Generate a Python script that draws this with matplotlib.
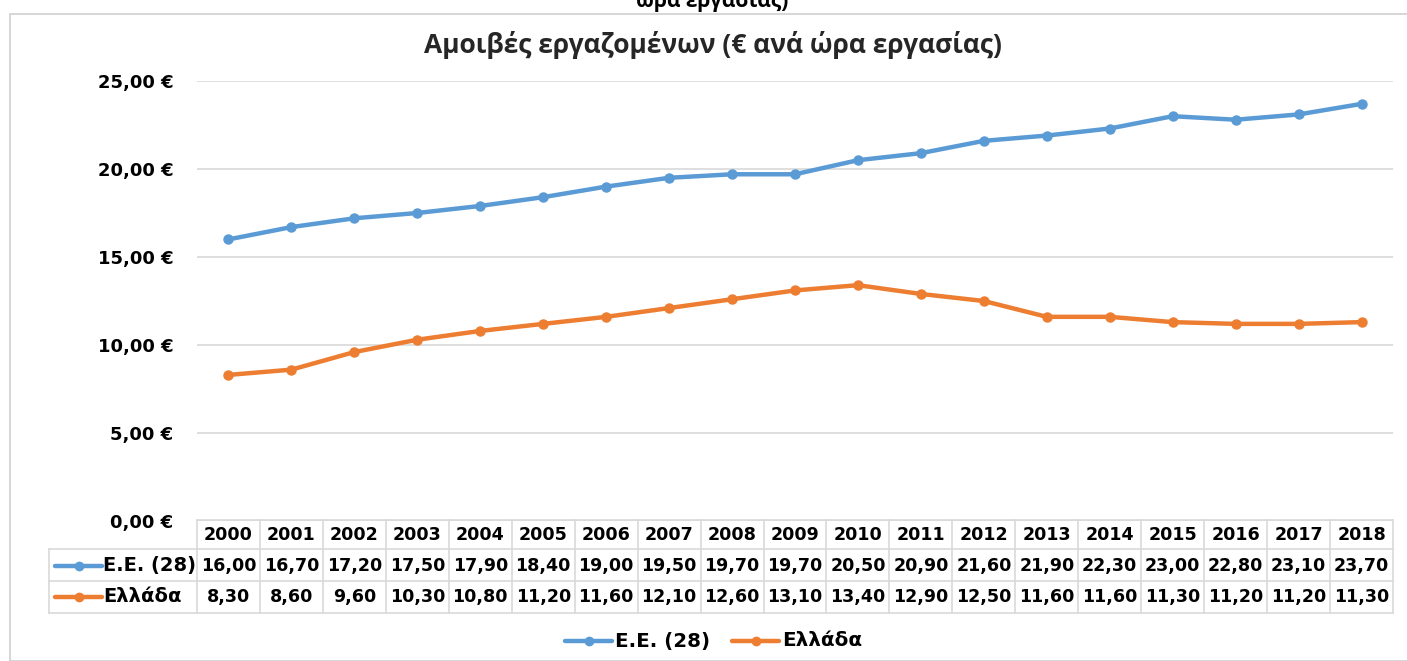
import matplotlib
matplotlib.use("Agg")
import matplotlib.pyplot as plt
from matplotlib.transforms import blended_transform_factory
from matplotlib.lines import Line2D
from matplotlib.patches import Rectangle

years = [2000, 2001, 2002, 2003, 2004, 2005, 2006, 2007, 2008, 2009,
         2010, 2011, 2012, 2013, 2014, 2015, 2016, 2017, 2018]
eu28 = [16.00, 16.70, 17.20, 17.50, 17.90, 18.40, 19.00, 19.50, 19.70, 19.70,
        20.50, 20.90, 21.60, 21.90, 22.30, 23.00, 22.80, 23.10, 23.70]
greece = [8.30, 8.60, 9.60, 10.30, 10.80, 11.20, 11.60, 12.10, 12.60, 13.10,
          13.40, 12.90, 12.50, 11.60, 11.60, 11.30, 11.20, 11.20, 11.30]
series_names = ["E.E. (28)", "Ελλάδα"]
yticks = [0, 5, 10, 15, 20, 25]
title = "Αμοιβές εργαζομένων (€ ανά ώρα εργασίας)"
top_cut_text = "ώρα εργασίας)"

BLUE = "#5B9BD5"
ORANGE = "#ED7D31"
GRID = "#D9D9D9"
W, H = 1407, 661
FONT = "DejaVu Sans"

fig = plt.figure(figsize=(W / 100, H / 100), dpi=100)
fig.patch.set_facecolor("white")

def fx(px):
    return px / W

def fy(py):
    return 1 - py / H

# outer chart frame
fig.patches.append(Rectangle((fx(10), fy(661)), fx(1420) - fx(10), fy(14) - fy(661),
                             transform=fig.transFigure, fill=False,
                             edgecolor="#D0D0D0", linewidth=1.2))

# cut-off text at very top (partially outside the picture, as in the reference)
fig.text(fx(712), fy(1), top_cut_text, ha="center", va="center",
         fontsize=15, fontweight="bold", family="Open Sans", color="black")

# title
fig.text(fx(713), fy(45), title, ha="center", va="center",
         fontsize=19, fontweight="bold", family="Open Sans", color="#262626")

ax = fig.add_axes([fx(197), fy(521), fx(1393) - fx(197), fy(81) - fy(521)])
x = list(range(len(years)))
ax.plot(x, eu28, color=BLUE, lw=3.2, marker="o", ms=6.5, solid_capstyle="round")
ax.plot(x, greece, color=ORANGE, lw=3.2, marker="o", ms=6.5, solid_capstyle="round")
ax.set_xlim(-0.5, len(years) - 0.5)
ax.set_ylim(0, 25)
ax.set_yticks(yticks)
ax.set_yticklabels([f"{v:.2f}".replace(".", ",") + " €" for v in yticks],
                   fontsize=13, fontweight="bold", family=FONT)
ax.tick_params(axis="y", length=0, pad=17)
ax.tick_params(axis="x", length=0, labelbottom=False)
for s in ax.spines.values():
    s.set_visible(False)
ax.yaxis.grid(True, color=GRID, lw=1.2)
ax.set_axisbelow(True)
ax.set_facecolor("none")

# data table
tr = blended_transform_factory(ax.transData, fig.transFigure)
row_edges = [520, 549, 581, 613]
label_left = 49
n = len(years)
lc = "#D9D9D9"
for i, ry in enumerate(row_edges):
    fig.add_artist(Line2D([-0.5, n - 0.5], [fy(ry), fy(ry)], transform=tr, color=lc, lw=1.2))
    if i >= 1:
        fig.add_artist(Line2D([fx(label_left), fx(197)], [fy(ry), fy(ry)],
                              transform=fig.transFigure, color=lc, lw=1.2))
for k in range(n + 1):
    fig.add_artist(Line2D([k - 0.5, k - 0.5], [fy(520), fy(613)], transform=tr, color=lc, lw=1.2))
fig.add_artist(Line2D([fx(label_left), fx(label_left)], [fy(549), fy(613)],
                      transform=fig.transFigure, color=lc, lw=1.2))

ROW_Y = [535, 566, 597]
for k, yr in enumerate(years):
    fig.text(k, fy(ROW_Y[0]), str(yr), transform=tr, ha="center", va="center",
             fontsize=12.6, fontweight="bold", family=FONT, color="black")
    fig.text(k, fy(ROW_Y[1]), f"{eu28[k]:.2f}".replace(".", ","), transform=tr, ha="center",
             va="center", fontsize=12.6, fontweight="bold", family=FONT, color="black")
    fig.text(k, fy(ROW_Y[2]), f"{greece[k]:.2f}".replace(".", ","), transform=tr, ha="center",
             va="center", fontsize=12.6, fontweight="bold", family=FONT, color="black")

# row labels with legend keys
for ry, name, col in [(ROW_Y[1], series_names[0], BLUE), (ROW_Y[2], series_names[1], ORANGE)]:
    fig.add_artist(Line2D([fx(55), fx(102)], [fy(ry), fy(ry)], transform=fig.transFigure,
                          color=col, lw=3.2, solid_capstyle="round"))
    fig.add_artist(Line2D([fx(78.5)], [fy(ry)], transform=fig.transFigure,
                          color=col, marker="o", ms=6, lw=0))
    fig.text(fx(103), fy(ry), name, ha="left", va="center", fontsize=14,
             fontweight="bold", family=FONT, color="black")

# bottom legend
for x0, name, col in [(565, series_names[0], BLUE), (732, series_names[1], ORANGE)]:
    fig.add_artist(Line2D([fx(x0), fx(x0 + 47)], [fy(641), fy(641)], transform=fig.transFigure,
                          color=col, lw=3.2, solid_capstyle="round"))
    fig.add_artist(Line2D([fx(x0 + 23.5)], [fy(641)], transform=fig.transFigure,
                          color=col, marker="o", ms=6, lw=0))
    fig.text(fx(x0 + 50), fy(641), name, ha="left", va="center", fontsize=14.3,
             fontweight="bold", family=FONT, color="black")

fig.savefig("out.png", dpi=100)
